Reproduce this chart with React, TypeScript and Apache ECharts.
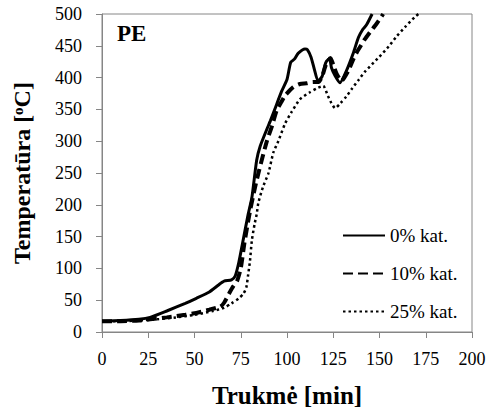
import React, { useEffect, useRef } from "react";
import * as echarts from "echarts";

const xTicks = [0, 25, 50, 75, 100, 125, 150, 175, 200];
const yTicks = [0, 50, 100, 150, 200, 250, 300, 350, 400, 450, 500];

const seriesNames = ["0% kat.", "10% kat.", "25% kat."];

const kat0: [number, number][] = [
  [0, 17], [10, 18], [20, 20], [26, 23], [35, 33], [45, 45], [51, 53], [58, 63], [63, 74],
  [66, 80], [70, 82], [72, 88], [74, 110], [76, 140], [79, 185], [81, 211], [83.6, 270],
  [85.5, 292], [89, 318], [91, 332], [93.5, 351], [97, 378], [100, 397], [102, 424],
  [104, 429], [106, 438], [109.7, 445], [111, 444], [113, 432], [117, 395], [119, 402],
  [121, 424], [123, 430], [124, 416], [126, 403], [128.6, 392], [132, 410], [136, 440],
  [138.6, 463], [141, 476], [143, 483], [146, 500],
];

const kat10: [number, number][] = [
  [0, 17], [10, 17], [20, 18], [26, 20], [35, 23], [45, 27], [51, 30], [58, 35], [64, 40],
  [66, 46], [69, 62], [71, 72], [73, 80], [75, 100], [77, 140], [80, 190], [82.7, 227],
  [85, 255], [89, 299], [92, 325], [94.4, 348], [97, 362], [99, 372], [103.4, 385],
  [107, 390], [110.6, 391], [114, 393], [117, 393], [119, 402], [121, 420], [123.5, 431],
  [125, 420], [127, 405], [129.5, 395], [133, 410], [136, 430], [138.6, 444], [142, 460],
  [145, 472], [148.5, 485], [152, 500],
];

const kat25: [number, number][] = [
  [0, 17], [10, 17], [20, 18], [30, 20], [40, 23], [50, 27], [60, 33], [66, 38], [70, 45],
  [74, 53], [76.4, 60], [78, 70], [79, 90], [80, 112], [81, 144], [82.5, 170], [83.6, 185],
  [84.5, 203], [87, 228], [90, 250], [92.6, 282], [95.3, 300], [99, 328], [102.5, 346],
  [107, 366], [112.4, 377], [116, 383], [119.6, 387], [122, 372], [124, 360], [126, 352],
  [129, 360], [132, 370], [135, 382], [138.6, 396], [142, 409], [146, 421], [150, 433],
  [155, 449], [159, 464], [164, 480], [169, 495], [171, 500],
];

const FONT = "Liberation Serif, Times New Roman, serif";
const AXIS_COLOR = "#868686";

export default function App() {
  const ref = useRef<HTMLDivElement>(null);

  useEffect(() => {
    if (!ref.current) return;
    const chart = echarts.init(ref.current, null, { renderer: "svg" });
    chart.setOption({
      animation: false,
      backgroundColor: "#ffffff",
      textStyle: { fontFamily: FONT, color: "#000" },
      grid: {
        left: 102,
        right: 18,
        top: 14,
        bottom: 77,
        show: true,
        borderColor: AXIS_COLOR,
        borderWidth: 1,
      },
      legend: {
        orient: "vertical",
        left: 337,
        top: 221,
        itemWidth: 42,
        itemHeight: 14,
        itemGap: 19,
        data: seriesNames,
        itemStyle: { opacity: 0 },
        textStyle: { fontFamily: FONT, fontSize: 19, color: "#000", lineHeight: 18 },
      },
      graphic: [
        {
          type: "text",
          left: 117,
          top: 22,
          style: { text: "PE", fontFamily: FONT, fontSize: 23, fontWeight: "bold", fill: "#000" },
        },
      ],
      xAxis: {
        type: "value",
        min: 0,
        max: 200,
        interval: 25,
        name: "Trukmė [min]",
        nameLocation: "middle",
        nameGap: 51,
        nameTextStyle: { fontFamily: FONT, fontSize: 25, fontWeight: "bold", color: "#000" },
        axisLine: { show: true, lineStyle: { color: AXIS_COLOR, width: 1 } },
        axisTick: { show: true, inside: false, length: 6, lineStyle: { color: AXIS_COLOR } },
        axisLabel: {
          margin: 18,
          fontFamily: FONT,
          fontSize: 18,
          color: "#000",
          formatter: (v: number) => (xTicks.includes(v) ? String(v) : ""),
        },
        splitLine: { show: false },
      },
      yAxis: {
        type: "value",
        min: 0,
        max: 500,
        interval: 50,
        name: "Temperatūra [{sup|o}C]",
        nameLocation: "middle",
        nameGap: 68,
        nameRotate: 90,
        nameTextStyle: {
          fontFamily: FONT,
          fontSize: 24,
          fontWeight: "bold",
          color: "#000",
          rich: {
            sup: {
              fontFamily: FONT,
              fontSize: 15,
              fontWeight: "bold",
              verticalAlign: "top",
              color: "#000",
              padding: [0, 0, 8, 0],
            },
          },
        },
        axisLine: { show: true, lineStyle: { color: AXIS_COLOR, width: 1 } },
        axisTick: { show: true, inside: false, length: 6, lineStyle: { color: AXIS_COLOR } },
        axisLabel: {
          margin: 20,
          fontFamily: FONT,
          fontSize: 18,
          color: "#000",
          formatter: (v: number) => (yTicks.includes(v) ? String(v) : ""),
        },
        splitLine: { show: false },
      },
      series: [
        {
          name: seriesNames[0],
          type: "line",
          data: kat0,
          symbol: "none",
          smooth: 0.2,
          itemStyle: { color: "#000" },
          lineStyle: { color: "#000", width: 3, type: "solid" },
        },
        {
          name: seriesNames[1],
          type: "line",
          data: kat10,
          symbol: "none",
          smooth: 0.2,
          itemStyle: { color: "#000" },
          lineStyle: { color: "#000", width: 4, type: [10, 5] },
        },
        {
          name: seriesNames[2],
          type: "line",
          data: kat25,
          symbol: "none",
          smooth: 0.2,
          itemStyle: { color: "#000" },
          lineStyle: { color: "#000", width: 2.5, type: [2.5, 3] },
        },
      ],
    });
    return () => chart.dispose();
  }, []);

  return <div ref={ref} style={{ width: 490, height: 413, position: "absolute", left: 0, top: 0 }} />;
}
